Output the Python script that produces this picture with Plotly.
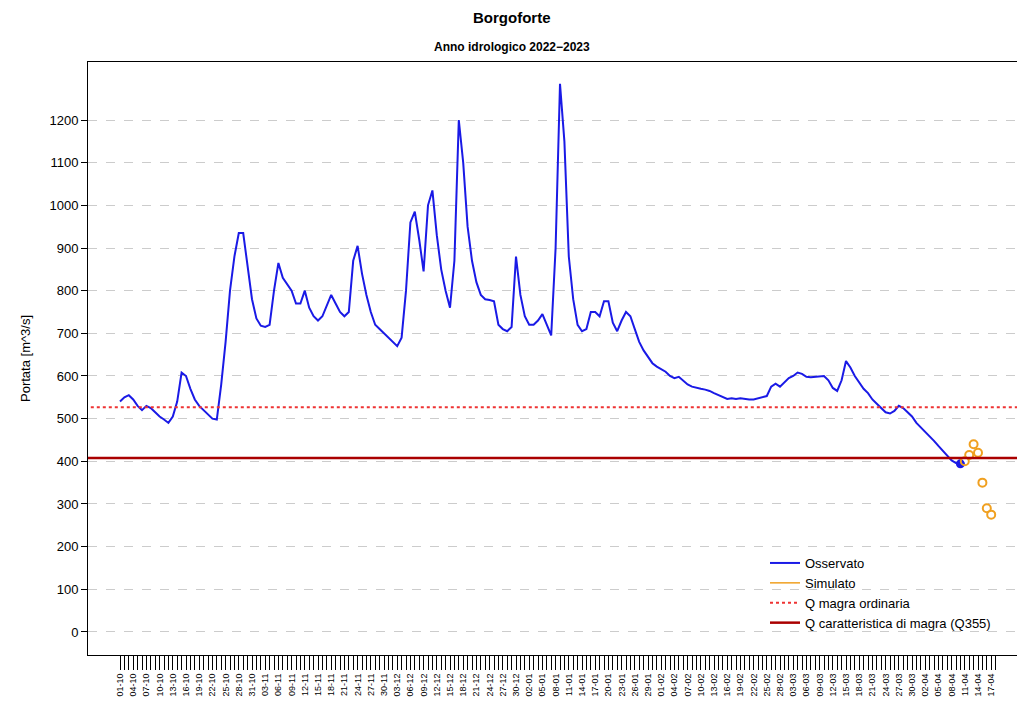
import datetime as dt
import plotly.graph_objects as go

start = dt.date(2022, 10, 1)
obs_days = list(range(0, 192))
obs_vals = [540, 550, 555, 545, 530, 520, 530, 525, 515, 505, 498, 490, 505, 540, 608, 600, 570, 545, 530, 520,
            510, 500, 498, 580, 680, 800, 880, 935, 935, 860, 780, 735, 718, 715, 720, 800, 865, 830, 815, 800,
            770, 770, 800, 760, 740, 730, 740, 765, 790, 770, 750, 740, 750, 870, 905, 840, 790, 750, 720, 710,
            700, 690, 680, 670, 690, 800, 960, 985, 920, 845, 1000, 1035, 930, 850, 800, 760, 870, 1200, 1100, 950,
            870, 820, 790, 780, 778, 775, 720, 710, 705, 715, 880, 790, 740, 720, 720, 730, 745, 720, 695, 900,
            1285, 1150, 880, 780, 720, 705, 710, 750, 750, 740, 775, 775, 725, 705, 730, 750, 740, 710, 680, 660,
            645, 630, 622, 615, 610, 600, 595, 598, 590, 580, 575, 572, 570, 568, 565, 560, 555, 550, 546, 548,
            546, 548, 546, 545, 545, 548, 550, 553, 575, 582, 575, 585, 595, 600, 608, 605, 598, 597, 598, 600,
            600, 590, 572, 565, 590, 635, 620, 600, 585, 570, 560, 545, 535, 525, 515, 512, 518, 530, 525, 515,
            505, 490, 480, 470, 460, 448, 436, 425, 412, 402, 396, 394]
sim_days = [192, 193, 194, 195, 196, 197, 198]
sim_vals = [400, 415, 440, 420, 350, 290, 275]
q_ordinaria = 527
q355 = 408
tick_days = list(range(0, 200))
tick_labels = [(start + dt.timedelta(days=d)).strftime("%d-%m") if d % 3 == 0 else "" for d in tick_days]
y_ticks = list(range(0, 1201, 100))

fig = go.Figure()
fig.add_trace(go.Scatter(x=obs_days, y=obs_vals, mode="lines", name="Osservato",
                         line=dict(color="#1a1ae6", width=2)))
fig.add_trace(go.Scatter(x=[obs_days[-1]], y=[obs_vals[-1]], mode="markers", showlegend=False,
                         marker=dict(color="#1a1ae6", size=9)))
fig.add_trace(go.Scatter(x=sim_days, y=sim_vals, mode="markers", showlegend=False,
                         marker=dict(symbol="circle-open", color="#f0a020", size=8, line=dict(width=2))))
fig.add_trace(go.Scatter(x=[None], y=[None], mode="lines", name="Simulato",
                         line=dict(color="#f0a020", width=1.5)))
fig.add_trace(go.Scatter(x=[-8, 210], y=[q_ordinaria, q_ordinaria], mode="lines", name="Q magra ordinaria",
                         line=dict(color="#ee3333", width=2, dash="dot")))
fig.add_trace(go.Scatter(x=[-8, 210], y=[q355, q355], mode="lines", name="Q caratteristica di magra (Q355)",
                         line=dict(color="#aa0000", width=2.5)))

L, T, B, W, H = 80, 54, 60, 1025, 707
plot_h = H - T - B
plot_w = W - L
fig.update_layout(
    width=W, height=H, plot_bgcolor="white", paper_bgcolor="white",
    margin=dict(l=L, r=0, t=T, b=B),
    font=dict(family="Liberation Sans, Arial", size=13, color="black"),
    legend=dict(x=(757 - L) / plot_w, y=1 - (540 - T) / plot_h, xanchor="left", yanchor="top",
                bgcolor="rgba(0,0,0,0)", font=dict(size=13), tracegroupgap=2),
    showlegend=True,
)
fig.add_annotation(text="<b>Borgoforte</b>", x=(504 - L) / plot_w, xref="paper",
                   y=1 + 44 / plot_h, yref="paper", showarrow=False, font=dict(size=15), yanchor="middle")
fig.add_annotation(text="<b>Anno idrologico 2022\u22122023</b>", x=(504 - L) / plot_w, xref="paper",
                   y=1 + 15 / plot_h, yref="paper", showarrow=False, font=dict(size=12), yanchor="middle")
fig.update_xaxes(range=[(88 - 120) / 4.4, (1033 - 120) / 4.4], tickmode="array", tickvals=tick_days,
                 ticktext=tick_labels, tickangle=-90, tickfont=dict(size=9), ticks="outside", ticklen=14,
                 tickcolor="black",
                 showgrid=False, zeroline=False, showline=True, linecolor="black", mirror=True, automargin=False)
fig.update_yaxes(range=[-54, 1336], tickvals=y_ticks, ticks="outside", ticklen=6, tickcolor="black",
                 showgrid=True, gridcolor="#cccccc", griddash="dash", zeroline=False,
                 showline=True, linecolor="black", mirror=True, automargin=False,
                 title=dict(text="Portata [m^3/s]", font=dict(size=13)))
fig.write_html("out.html")
